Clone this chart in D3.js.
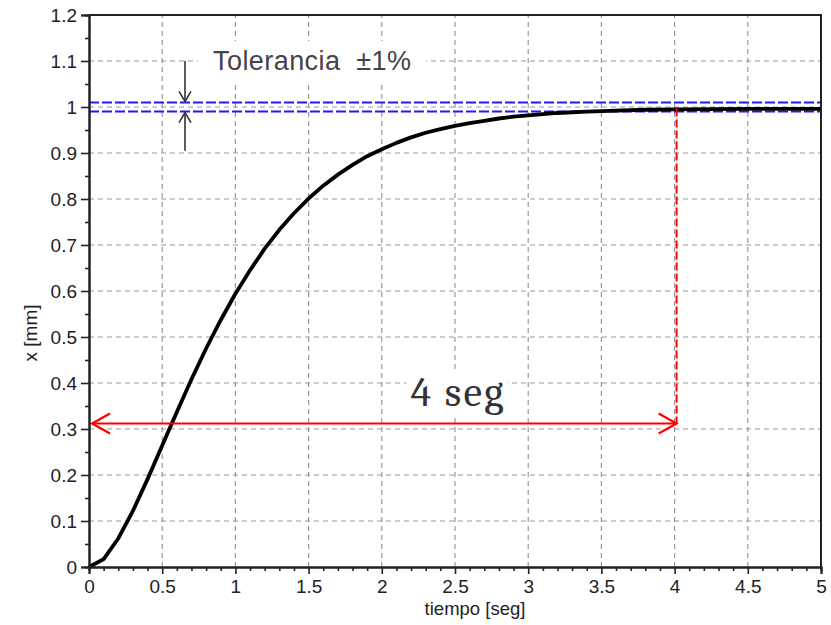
<!DOCTYPE html>
<html><head><meta charset="utf-8">
<script src="https://cdn.jsdelivr.net/npm/d3@7"></script>
<style>body{margin:0;background:#fff}svg{display:block}</style>
</head><body>
<script>
const timeValues = [0,0.1,0.2,0.3,0.4,0.5,0.6,0.7,0.8,0.9,1.0,1.1,1.2,1.3,1.4,1.5,1.6,1.7,1.8,1.9,2.0,2.1,2.2,2.3,2.4,2.5,2.6,2.7,2.8,2.9,3.0,3.2,3.4,3.6,3.8,4.0,4.5,5.0];
const xValues = [0,0.017,0.062,0.122,0.191,0.264,0.337,0.408,0.475,0.537,0.594,0.645,0.692,0.733,0.769,0.801,0.829,0.853,0.874,0.893,0.908,0.922,0.934,0.944,0.952,0.959,0.965,0.970,0.975,0.979,0.982,0.987,0.990,0.992,0.994,0.995,0.996,0.996];
const xTicks = [0,0.5,1,1.5,2,2.5,3,3.5,4,4.5,5];
const yTicks = [0,0.1,0.2,0.3,0.4,0.5,0.6,0.7,0.8,0.9,1,1.1,1.2];
const toleranceBand = [0.99, 1.01];
const settleTime = 4;
const arrowLevel = 0.312;

const W = 831, H = 625;
const m = {l:89, t:15, r:10, b:58};
const iw = W - m.l - m.r, ih = H - m.t - m.b;

const svg = d3.select("body").append("svg").attr("width", W).attr("height", H);
const x = d3.scaleLinear().domain([0,5]).range([m.l, m.l+iw]);
const y = d3.scaleLinear().domain([0,1.2]).range([m.t+ih, m.t]);

// grid
const g = svg.append("g");
g.selectAll(".vg").data(xTicks.slice(1,-1)).join("line")
  .attr("x1", d=>x(d)).attr("x2", d=>x(d)).attr("y1", y(0)).attr("y2", y(1.2))
  .attr("stroke", "#999").attr("stroke-width", 1.2).attr("stroke-dasharray", "5,4");
g.selectAll(".hg").data(yTicks.slice(1,-1)).join("line")
  .attr("x1", x(0)).attr("x2", x(5)).attr("y1", d=>y(d)).attr("y2", d=>y(d))
  .attr("stroke", "#999").attr("stroke-width", 1.2).attr("stroke-dasharray", "5,4");

// tolerance band
svg.selectAll(".tol").data(toleranceBand).join("line")
  .attr("x1", x(0)).attr("x2", x(5)).attr("y1", d=>y(d)).attr("y2", d=>y(d))
  .attr("stroke", "#1a1aff").attr("stroke-width", 2).attr("stroke-dasharray", "10,3");

// text boxes
const sansF = "Arial, 'Liberation Sans', sans-serif";
function labelBox(txt, cx, baseline, font, size, color, pad, len) {
  const t = svg.append("text").attr("x", cx).attr("y", baseline).attr("text-anchor","middle")
    .attr("font-family", font).attr("font-size", size).attr("fill", color)
    .attr("textLength", len).attr("lengthAdjust", "spacing").text(txt);
  const bb = t.node().getBBox();
  svg.insert("rect", () => t.node()).attr("x", bb.x - pad[0]).attr("y", bb.y - pad[1])
    .attr("width", bb.width + 2*pad[0]).attr("height", bb.height + 2*pad[1]).attr("fill", "#fff");
  return t;
}
labelBox("Tolerancia\u00a0\u00a0\u00b11%", 312, 70, sansF, 27, "#444", [15, 5], 198);
labelBox("4 seg", 457, 406, "Cambria, 'Liberation Serif', 'DejaVu Serif', serif", 42, "#333", [4, -3], 93);

// curve
const data = timeValues.map((t,i)=>[t, xValues[i]]);
svg.append("path").datum(data)
  .attr("d", d3.line().x(d=>x(d[0])).y(d=>y(d[1])))
  .attr("fill","none").attr("stroke","#000").attr("stroke-width",3.8).attr("stroke-linejoin","round");

// tolerance arrows
const ax = 185;
const ac = "#333";
function vArrow(y1, y2) {
  svg.append("line").attr("x1",ax).attr("x2",ax).attr("y1",y1).attr("y2",y2)
    .attr("stroke",ac).attr("stroke-width",1.6);
  const dir = y2 > y1 ? -1 : 1;
  svg.append("path").attr("d", `M${ax-6},${y2+dir*10}L${ax},${y2}L${ax+6},${y2+dir*10}`)
    .attr("fill","none").attr("stroke",ac).attr("stroke-width",1.6);
}
vArrow(y(1.1), y(toleranceBand[1]) - 1);
vArrow(y(0.905), y(toleranceBand[0]) + 1);

// red settling markers
const rx = x(settleTime) + 2;
svg.append("line").attr("x1", rx).attr("x2", rx).attr("y1", y(0.997)).attr("y2", y(arrowLevel))
  .attr("stroke","#ff0000").attr("stroke-width",2).attr("stroke-dasharray","8,3");
const lx = x(0) + 3;
svg.append("line").attr("x1", lx).attr("x2", rx).attr("y1", y(arrowLevel)).attr("y2", y(arrowLevel))
  .attr("stroke","#ff0000").attr("stroke-width",2.2);
const ay = y(arrowLevel);
svg.append("path").attr("d", `M${lx+18},${ay-10}L${lx},${ay}L${lx+18},${ay+10}`)
  .attr("fill","none").attr("stroke","#ff0000").attr("stroke-width",2.2);
svg.append("path").attr("d", `M${rx-18},${ay-10}L${rx},${ay}L${rx-18},${ay+10}`)
  .attr("fill","none").attr("stroke","#ff0000").attr("stroke-width",2.2);

// frame top/right
svg.append("path").attr("d", `M${x(0)},${y(1.2)}H${x(5)}V${y(0)}`)
  .attr("fill","none").attr("stroke","#222").attr("stroke-width",2);

// axes
const xAxis = svg.append("g").attr("transform", `translate(0,${y(0)})`)
  .call(d3.axisBottom(x).tickValues(xTicks).tickFormat(d3.format("")).tickSize(7).tickPadding(6));
const xMinor = svg.append("g").attr("transform", `translate(0,${y(0)})`)
  .call(d3.axisBottom(x).tickValues(d3.range(0,51).map(i=>i/10).filter(v=>Math.abs(v*2-Math.round(v*2))>1e-6)).tickFormat("").tickSize(4));
const yAxis = svg.append("g").attr("transform", `translate(${x(0)},0)`)
  .call(d3.axisLeft(y).tickValues(yTicks).tickFormat(d3.format("")).tickSize(8).tickPadding(4));
const yMinor = svg.append("g").attr("transform", `translate(${x(0)},0)`)
  .call(d3.axisLeft(y).tickValues(yTicks.slice(0,-1).map(v=>v+0.05)).tickFormat("").tickSize(4));
[xAxis, xMinor, yAxis, yMinor].forEach(a=>{
  a.select(".domain").attr("stroke","#222").attr("stroke-width",2);
  a.selectAll(".tick line").attr("stroke","#222").attr("stroke-width",1.6);
  a.selectAll("text").attr("font-family",sansF).attr("font-size",19).attr("fill","#222");
});

svg.append("text").attr("x", 475).attr("y", 615).attr("text-anchor","middle")
  .attr("font-family",sansF).attr("font-size",18.5).attr("fill","#222").text("tiempo [seg]");
svg.append("text").attr("transform", "translate(37,333) rotate(-90)").attr("text-anchor","middle")
  .attr("font-family",sansF).attr("font-size",19).attr("fill","#222").text("x [mm]");
</script>
</body></html>
